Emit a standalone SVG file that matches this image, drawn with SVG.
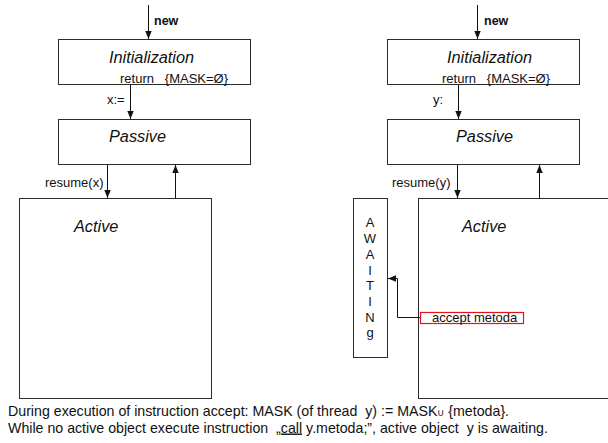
<svg xmlns="http://www.w3.org/2000/svg" width="608" height="443" viewBox="0 0 608 443">
  <style>
    .box { fill: #ffffff; stroke: #2b2b2b; stroke-width: 1; }
    .red { fill: none; stroke: #e8121b; stroke-width: 1.2; }
    .edge { fill: none; stroke: #111111; stroke-width: 1; }
    text { font-family: "Liberation Sans", Arial, sans-serif; fill: #111111; }
    .title { font-size: 16.3px; font-style: italic; }
    .lbl { font-size: 13px; }
    .bold { font-size: 12.5px; font-weight: bold; }
    .note { font-size: 14.2px; }
    .letter { font-size: 13px; text-anchor: middle; }
  </style>
  <defs>
    <marker id="arrow" viewBox="0 0 8 8" refX="8" refY="4" markerWidth="8" markerHeight="8" markerUnits="userSpaceOnUse" orient="auto">
      <path d="M0,0.8 L8,4 L0,7.2 Z" fill="#111111"/>
    </marker>
  </defs>

  <!-- left thread: x -->
  <g id="init-x">
    <rect class="box" x="58.5" y="39.5" width="192" height="45"/>
    <text class="title" x="109" y="63">Initialization</text>
    <text class="lbl" x="120" y="82.5" xml:space="preserve">return   {MASK=Ø}</text>
  </g>
  <g id="passive-x">
    <rect class="box" x="58.5" y="119.5" width="192" height="45"/>
    <text class="title" x="109" y="141.5">Passive</text>
  </g>
  <g id="active-x">
    <rect class="box" x="19.5" y="198.5" width="192" height="200"/>
    <text class="title" x="74" y="232">Active</text>
  </g>

  <!-- right thread: y -->
  <g id="init-y">
    <rect class="box" x="387.5" y="39.5" width="192" height="45"/>
    <text class="title" x="447" y="63">Initialization</text>
    <text class="lbl" x="442" y="82.5" xml:space="preserve">return   {MASK=Ø}</text>
  </g>
  <g id="passive-y">
    <rect class="box" x="387.5" y="119.5" width="192" height="45"/>
    <text class="title" x="456" y="141.5">Passive</text>
  </g>
  <g id="active-y">
    <rect class="box" x="418.5" y="198.5" width="200" height="200"/>
    <text class="title" x="462" y="232">Active</text>
  </g>
  <g id="awaiting">
    <rect class="box" x="353.5" y="198.5" width="34" height="159"/>
    <text class="letter" x="370" y="227">A</text>
    <text class="letter" x="370" y="243">W</text>
    <text class="letter" x="370" y="259">A</text>
    <text class="letter" x="370" y="275">I</text>
    <text class="letter" x="370" y="290">T</text>
    <text class="letter" x="370" y="306">I</text>
    <text class="letter" x="370" y="322">N</text>
    <text class="letter" x="370" y="337">g</text>
  </g>
  <g id="accept">
    <rect class="red" x="420.5" y="312.5" width="103" height="11"/>
    <text class="lbl" x="432" y="322">accept metoda</text>
  </g>

  <!-- connectors -->
  <g id="connectors">
    <line class="edge" x1="148.5" y1="5" x2="148.5" y2="39" marker-end="url(#arrow)"/>
    <line class="edge" x1="130.5" y1="85" x2="130.5" y2="119" marker-end="url(#arrow)"/>
    <line class="edge" x1="107.5" y1="165" x2="107.5" y2="198" marker-end="url(#arrow)"/>
    <line class="edge" x1="175.5" y1="198" x2="175.5" y2="165" marker-end="url(#arrow)"/>

    <line class="edge" x1="477.5" y1="5" x2="477.5" y2="39" marker-end="url(#arrow)"/>
    <line class="edge" x1="458.5" y1="85" x2="458.5" y2="119" marker-end="url(#arrow)"/>
    <line class="edge" x1="457.5" y1="165" x2="457.5" y2="198" marker-end="url(#arrow)"/>
    <line class="edge" x1="539.5" y1="198" x2="539.5" y2="165" marker-end="url(#arrow)"/>

    <polyline class="edge" points="420,317.5 397.5,317.5 397.5,278.5 388,278.5" marker-end="url(#arrow)"/>
  </g>

  <!-- connector labels -->
  <g id="labels">
    <text class="bold" x="154" y="25">new</text>
    <text class="bold" x="484" y="25">new</text>
    <text class="lbl" x="107" y="104">x:=</text>
    <text class="lbl" x="433" y="104">y:</text>
    <text class="lbl" x="45" y="187">resume(x)</text>
    <text class="lbl" x="392" y="187">resume(y)</text>
  </g>

  <!-- notes under the diagram -->
  <g id="notes">
    <text class="note" x="8" y="416" xml:space="preserve">During execution of instruction accept: MASK (of thread  y) := MASK<tspan font-size="10">∪</tspan> {metoda}.</text>
    <text class="note" x="8" y="432.5" xml:space="preserve">While no active object execute instruction  „<tspan text-decoration="underline">call</tspan> y.metoda;”, active object  y is awaiting.</text>
  </g>
</svg>
